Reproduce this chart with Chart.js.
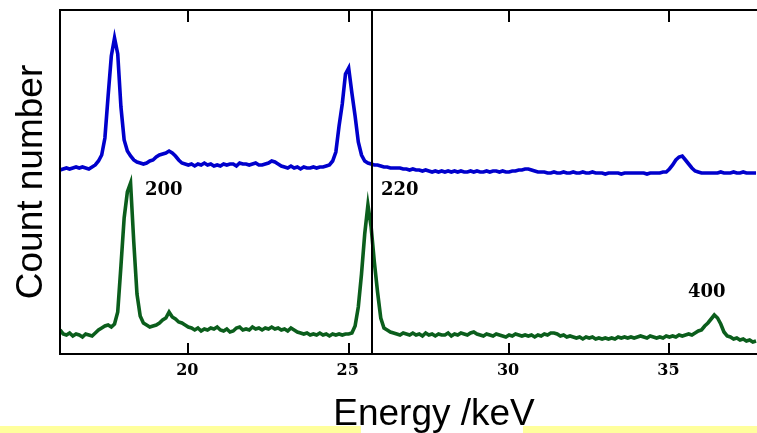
<!DOCTYPE html>
<html>
<head>
<meta charset="utf-8">
<script src="https://cdn.jsdelivr.net/npm/chart.js@4/dist/chart.umd.min.js"></script>
<style>
html,body{margin:0;padding:0;background:#fff;}
#wrap{position:relative;width:757px;height:433px;}
canvas{display:block;}
</style>
</head>
<body>
<div id="wrap"><canvas id="c" width="757" height="433"></canvas></div>
<script>
// Energy grid (keV)
const energy = [
16.0,16.1,16.2,16.3,16.4,16.5,16.6,16.7,16.8,16.9,
17.0,17.1,17.2,17.3,17.4,17.5,17.6,17.7,17.8,17.9,
18.0,18.1,18.2,18.3,18.4,18.5,18.6,18.7,18.8,18.9,
19.0,19.1,19.2,19.3,19.4,19.5,19.6,19.7,19.8,19.9,
20.0,20.1,20.2,20.3,20.4,20.5,20.6,20.7,20.8,20.9,
21.0,21.1,21.2,21.3,21.4,21.5,21.6,21.7,21.8,21.9,
22.0,22.1,22.2,22.3,22.4,22.5,22.6,22.7,22.8,22.9,
23.0,23.1,23.2,23.3,23.4,23.5,23.6,23.7,23.8,23.9,
24.0,24.1,24.2,24.3,24.4,24.5,24.6,24.7,24.8,24.9,
25.0,25.1,25.2,25.3,25.4,25.5,25.6,25.7,25.8,25.9,
26.0,26.1,26.2,26.3,26.4,26.5,26.6,26.7,26.8,26.9,
27.0,27.1,27.2,27.3,27.4,27.5,27.6,27.7,27.8,27.9,
28.0,28.1,28.2,28.3,28.4,28.5,28.6,28.7,28.8,28.9,
29.0,29.1,29.2,29.3,29.4,29.5,29.6,29.7,29.8,29.9,
30.0,30.1,30.2,30.3,30.4,30.5,30.6,30.7,30.8,30.9,
31.0,31.1,31.2,31.3,31.4,31.5,31.6,31.7,31.8,31.9,
32.0,32.1,32.2,32.3,32.4,32.5,32.6,32.7,32.8,32.9,
33.0,33.1,33.2,33.3,33.4,33.5,33.6,33.7,33.8,33.9,
34.0,34.1,34.2,34.3,34.4,34.5,34.6,34.7,34.8,34.9,
35.0,35.1,35.2,35.3,35.4,35.5,35.6,35.7,35.8,35.9,
36.0,36.1,36.2,36.3,36.4,36.5,36.6,36.7,36.8,36.9,
37.0,37.1,37.2,37.3,37.4,37.5,37.6,37.7
];

// Upper spectrum (blue), arbitrary count units incl. offset
const countsUpper = [
184,185,186,185,186,187,186,187,186,185,
187,189,193,199,216,258,298,316,300,247,
214,203,198,194,192,191,190,191,193,194,
197,199,200,201,203,201,198,194,191,190,
189,190,188,190,189,191,189,190,188,189,
188,190,189,190,190,188,191,190,190,189,
190,191,189,189,190,191,193,192,190,188,
187,186,188,186,187,185,187,186,186,187,
186,187,187,188,189,193,202,228,250,280,
286,261,238,212,199,193,191,190,189,189,
188,187,187,186,186,186,186,185,185,184,
185,184,184,183,184,183,182,183,182,183,
182,183,182,183,182,183,182,182,183,182,
183,182,182,183,182,183,183,182,183,182,
182,183,183,184,184,185,185,184,183,182,
182,182,181,181,182,181,181,182,181,181,
182,181,181,182,181,181,182,181,181,181,
180,181,181,181,181,180,181,181,181,181,
181,181,181,180,181,181,181,181,182,182,
185,189,194,197,198,194,190,186,183,182,
181,181,181,181,181,181,182,181,181,181,
182,181,181,182,181,181,181,181
];

// Lower spectrum (green)
const countsLower = [
24,20,19,21,18,20,19,17,20,19,
18,21,24,26,28,29,27,30,42,88,
136,162,171,112,60,38,31,29,27,28,
29,31,34,36,42,37,35,32,31,29,
27,26,24,26,23,25,24,26,25,27,
24,23,25,22,23,26,27,24,25,24,
27,25,26,24,26,25,27,25,26,24,
25,23,26,24,22,21,20,21,19,20,
19,21,19,20,18,20,19,20,19,20,
20,21,28,47,80,120,149,127,92,62,
36,26,24,22,21,20,19,21,20,19,
21,19,20,18,21,19,20,18,20,19,
19,21,18,20,19,21,20,19,21,22,
20,19,18,20,19,18,20,19,18,17,
19,18,20,19,18,19,18,19,17,19,
18,20,19,21,21,20,18,19,17,18,
17,16,17,15,17,16,17,15,16,15,
16,15,16,15,17,16,17,16,17,16,
17,18,17,16,18,17,16,17,16,18,
17,18,17,19,18,19,20,19,21,23,
24,28,31,35,39,36,30,22,18,17,
15,16,14,15,13,14,12,13
];

const xTicks = [20, 25, 30, 35];
const xTickLabels = ["20", "25", "30", "35"];
const markerEnergy = 25.73;
const peakLabels = ["200", "220", "400"];
const peakLabelX = [18.65, 26.01, 35.58];
const peakLabelY = [164, 164, 62];
const xTitle = "Energy /keV";
const yTitle = "Count number";

const decor = {
  id: 'decor',
  beforeDraw(chart) {
    const ctx = chart.ctx;
    ctx.save();
    ctx.fillStyle = '#ffff9c';
    ctx.fillRect(0, 426, 361, 7);
    ctx.fillRect(523, 426, 234, 7);
    ctx.restore();
  },
  afterDatasetsDraw(chart) {
    const ctx = chart.ctx;
    const xs = chart.scales.x, ys = chart.scales.y;
    const a = chart.chartArea;
    ctx.save();
    ctx.strokeStyle = '#000';
    ctx.lineWidth = 2;
    // frame
    ctx.beginPath();
    ctx.moveTo(a.right + 2, a.top);
    ctx.lineTo(a.left, a.top);
    ctx.lineTo(a.left, a.bottom);
    ctx.lineTo(a.right + 2, a.bottom);
    ctx.stroke();
    // inward ticks
    ctx.beginPath();
    xTicks.forEach(v => {
      const px = Math.round(xs.getPixelForValue(v));
      ctx.moveTo(px, a.top); ctx.lineTo(px, a.top + 12);
      ctx.moveTo(px, a.bottom); ctx.lineTo(px, a.bottom - 11);
    });
    ctx.stroke();
    // marker line
    const mx = Math.round(xs.getPixelForValue(markerEnergy));
    ctx.beginPath();
    ctx.moveTo(mx, a.top); ctx.lineTo(mx, a.bottom);
    ctx.stroke();
    // tick labels
    ctx.fillStyle = '#000';
    ctx.font = 'bold 16px "DejaVu Serif"';
    ctx.textAlign = 'center';
    ctx.textBaseline = 'middle';
    xTicks.forEach((v, i) => {
      ctx.fillText(xTickLabels[i], xs.getPixelForValue(v) - 1, a.bottom + 17);
    });
    // peak labels
    ctx.font = 'bold 18px "DejaVu Serif"';
    ctx.textAlign = 'left';
    peakLabels.forEach((t, i) => {
      ctx.fillText(t, xs.getPixelForValue(peakLabelX[i]), ys.getPixelForValue(peakLabelY[i]));
    });
    // axis titles
    ctx.font = '37px "Liberation Sans", Arial, sans-serif';
    ctx.textAlign = 'center';
    ctx.textBaseline = 'alphabetic';
    ctx.fillText(xTitle, 434, 425);
    ctx.translate(42, 182);
    ctx.rotate(-Math.PI / 2);
    ctx.fillText(yTitle, 0, 0);
    ctx.restore();
  }
};

new Chart(document.getElementById('c'), {
  type: 'line',
  data: {
    datasets: [
      {
        label: 'upper',
        data: energy.map((e, i) => ({ x: e, y: countsUpper[i] })),
        borderColor: '#0000cc',
        borderWidth: 3.6,
        pointRadius: 0,
        tension: 0,
        fill: false
      },
      {
        label: 'lower',
        data: energy.map((e, i) => ({ x: e, y: countsLower[i] })),
        borderColor: '#0b5e1c',
        borderWidth: 3.6,
        pointRadius: 0,
        tension: 0,
        fill: false
      }
    ]
  },
  options: {
    responsive: false,
    animation: false,
    devicePixelRatio: 1,
    layout: { padding: { left: 60, top: 10, right: 0, bottom: 79 } },
    plugins: { legend: { display: false }, tooltip: { enabled: false } },
    scales: {
      x: { type: 'linear', min: 16, max: 37.73, display: false },
      y: { type: 'linear', min: 0, max: 344, display: false }
    }
  },
  plugins: [decor]
});
</script>
</body>
</html>
